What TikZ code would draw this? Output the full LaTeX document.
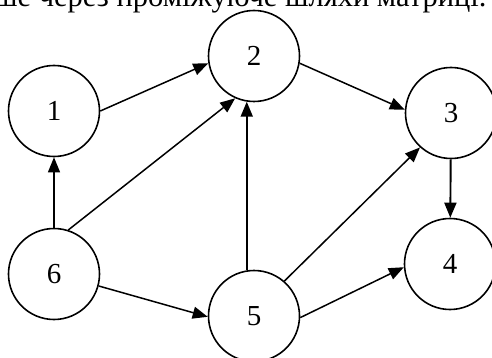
\documentclass[tikz,border=0pt]{standalone}
\usepackage{fontspec}
\setmainfont{Liberation Serif}
\usetikzlibrary{arrows.meta}
\begin{document}
\begin{tikzpicture}[x=1pt,y=-1pt,
  vert/.style={circle,draw,line width=1.6pt,minimum size=91pt,inner sep=0pt,font=\fontsize{29}{33}\selectfont},
  edge/.style={line width=1.5pt,-{Triangle[length=15pt,width=12pt]}},
  thick edge/.style={edge,line width=1.9pt},
  thin edge/.style={edge,line width=1.2pt}]
\useasboundingbox (0,0) rectangle (492,358);
\clip (0,0) rectangle (492,358);
\node[anchor=base west,inner sep=0pt,font=\fontsize{30.5}{35}\selectfont] (cap) at (-6,7) {ше через проміжуюче шляхи матриці.};
\node[vert] (n1) at (54,111) {1};
\node[vert] (n2) at (254,56) {2};
\node[vert] (n3) at (451,113) {3};
\node[vert] (n4) at (450,264) {4};
\node[vert] (n5) at (254,316) {5};
\node[vert] (n6) at (54,274) {6};
\draw[edge] (n1.0) -- (n2.189);
\draw[thin edge] (n6) -- (n1);
\draw[edge] (n6.72) -- (n2.246);
\draw[edge] (n6.-15) -- (n5.181);
\draw[thick edge] (n5.99) -- (n2.261);
\draw[edge] (n5.49) -- (n3.228);
\draw[edge] (n5.-2) -- (n4.184);
\draw[edge] (n2.-9) -- (n3.176);
\draw[thick edge] (n3) -- (n4);
\end{tikzpicture}
\end{document}
